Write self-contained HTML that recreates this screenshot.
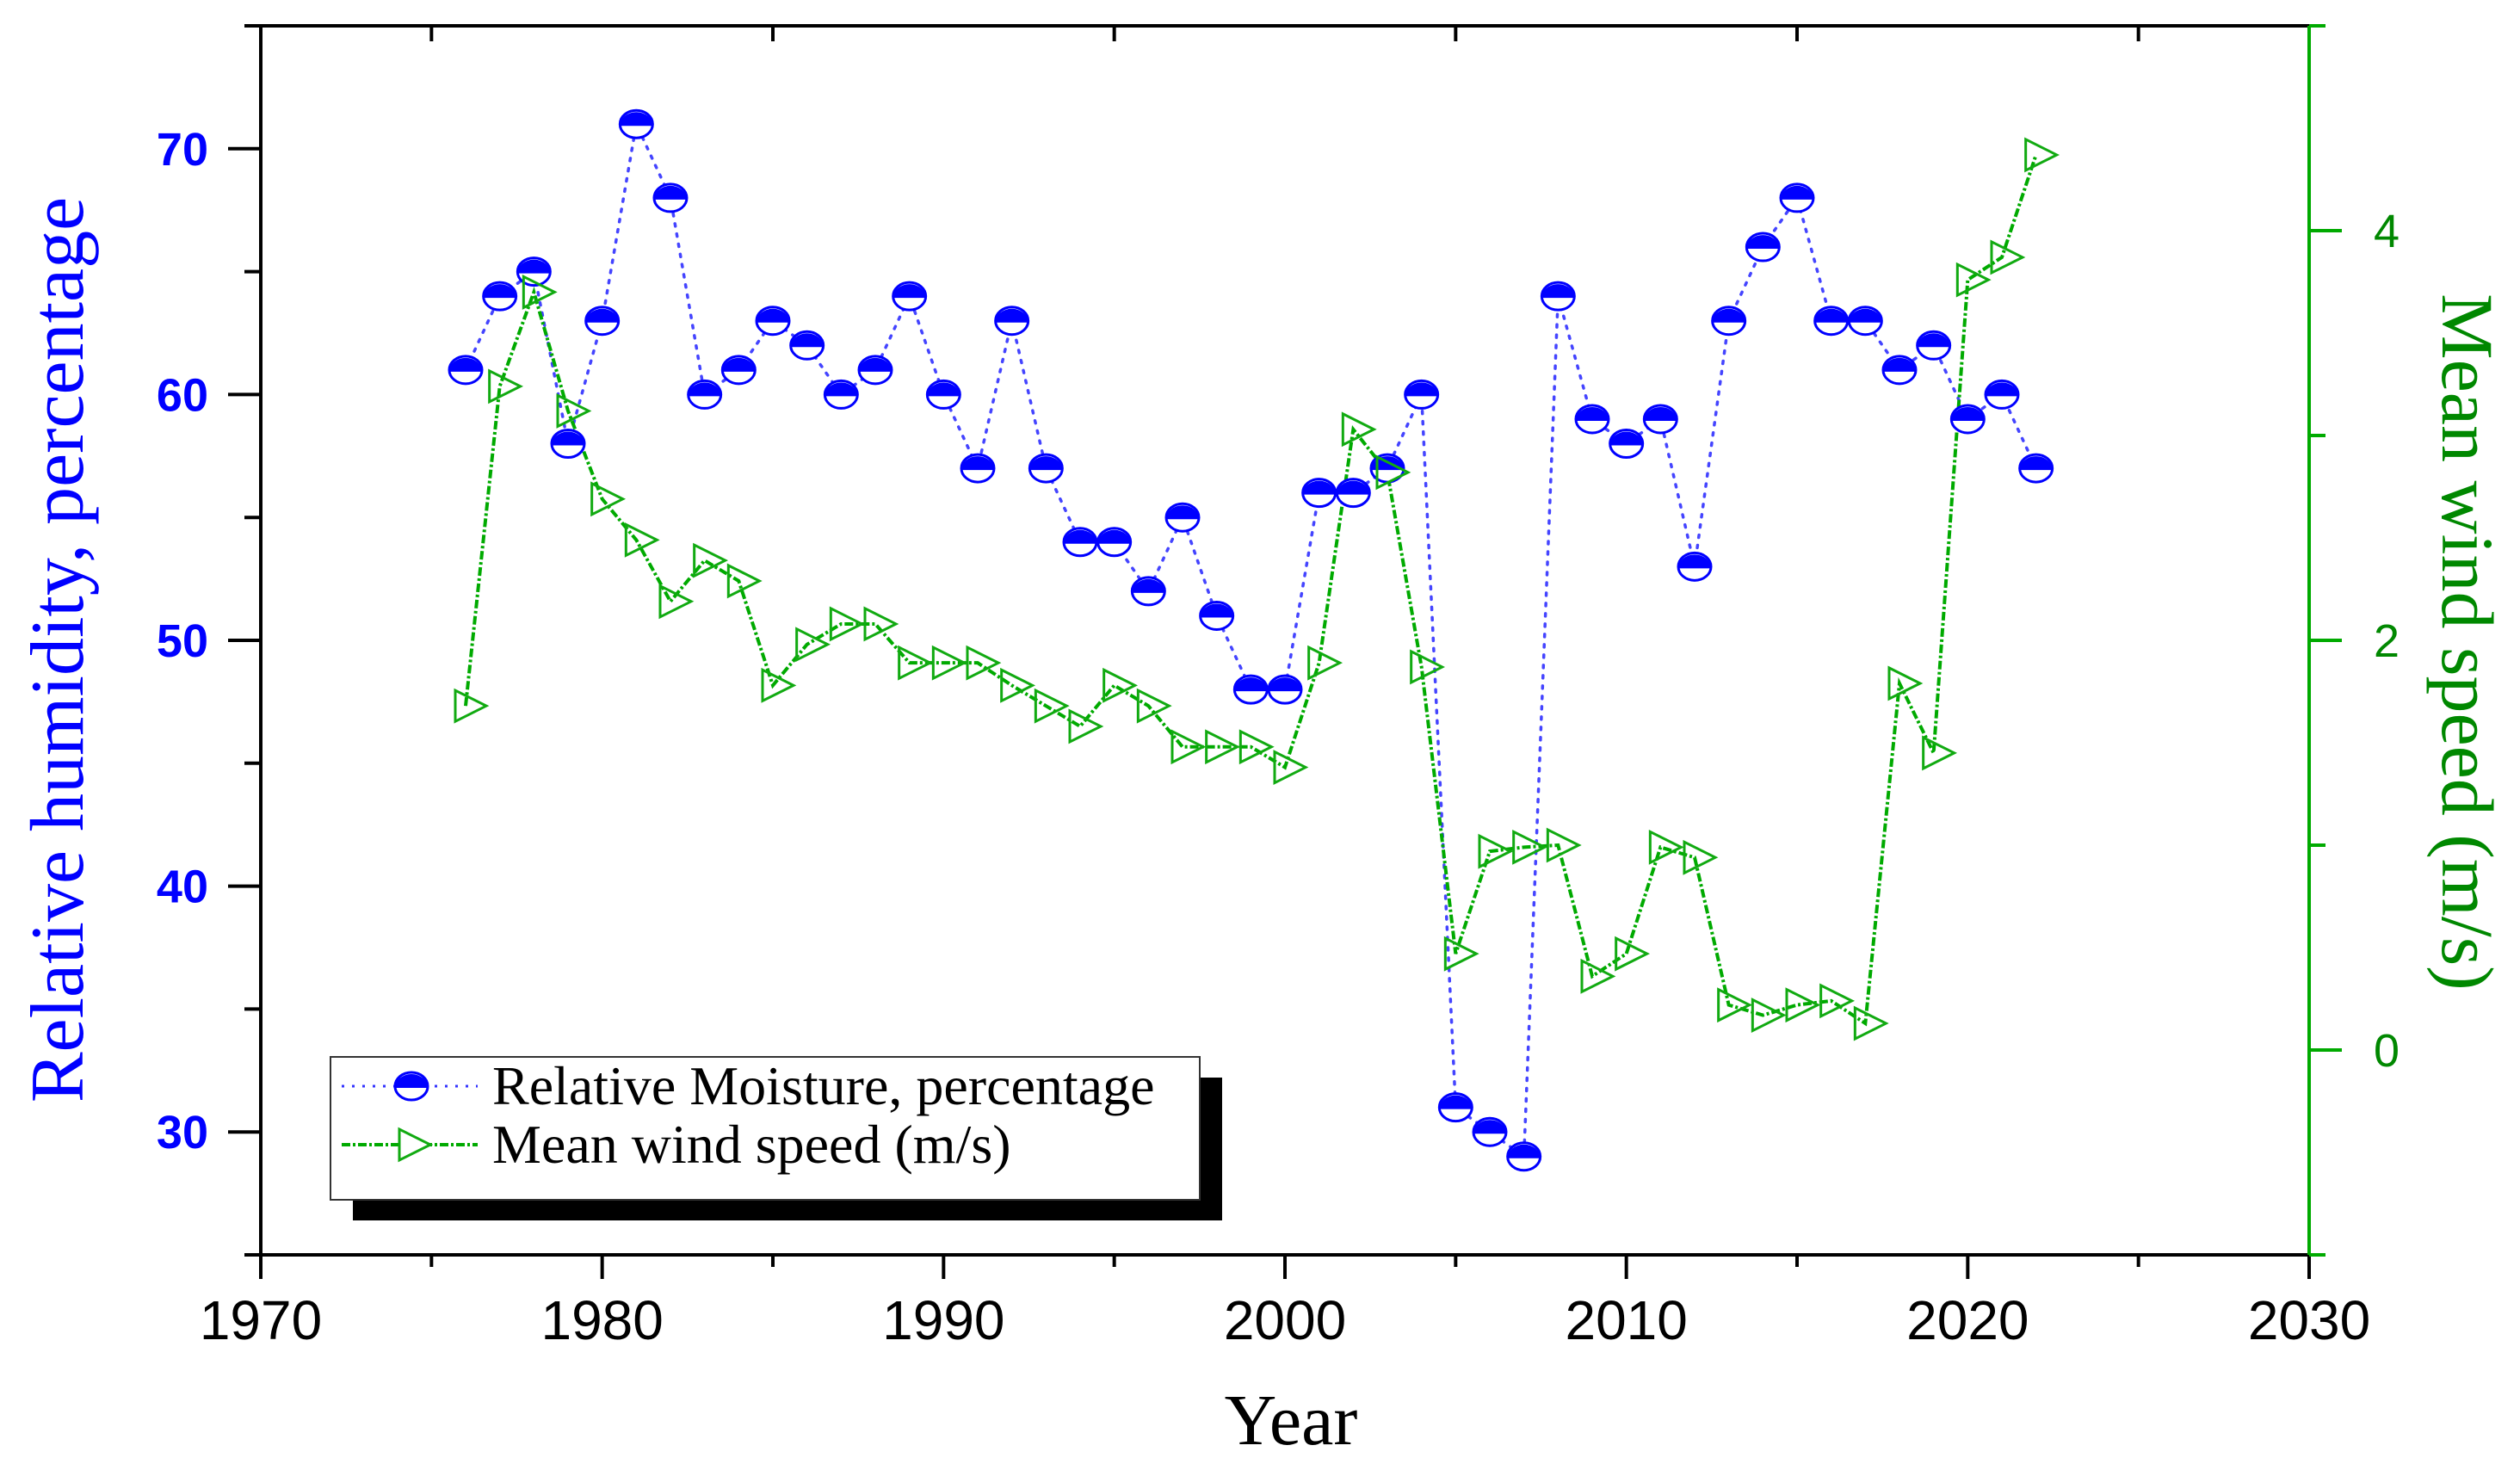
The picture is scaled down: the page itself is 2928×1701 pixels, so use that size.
<!DOCTYPE html>
<html><head><meta charset="utf-8"><style>
html,body{margin:0;padding:0;background:#fff;}
svg{display:block;}
</style></head><body>
<svg id="chart" width="2928" height="1701" viewBox="0 0 2928 1701" xmlns="http://www.w3.org/2000/svg">
<g id="axes"></g>
<g id="series"></g>
<g id="legend">
  <rect x="410" y="1252" width="1010" height="166" fill="#000"/>
  <rect x="384" y="1228" width="1010" height="166" fill="#fff" stroke="#333" stroke-width="2"/>
  <line x1="397" y1="1262" x2="555" y2="1262" stroke="#33f" stroke-width="3" stroke-dasharray="3,9"/>
  <g>
    <path d="M459,1264 A19,16 0 0 1 497,1264 Z" fill="#00f"/>
    <ellipse cx="478" cy="1262" rx="19" ry="16" fill="none" stroke="#00f" stroke-width="3"/>
  </g>
  <text x="572" y="1283" font-family="Liberation Serif, serif" font-size="64" fill="#000">Relative Moisture, percentage</text>
  <line x1="397" y1="1330" x2="555" y2="1330" stroke="#0a0" stroke-width="4" stroke-dasharray="10,3,3,3"/>
  <path d="M464,1312 L464,1348 L500,1330 Z" fill="#fff" stroke="#1a1" stroke-width="3"/>
  <text x="572" y="1351" font-family="Liberation Serif, serif" font-size="64" fill="#000">Mean wind speed (m/s)</text>
</g>
<text x="1500" y="1678" text-anchor="middle" font-family="Liberation Serif, serif" font-size="84" fill="#000">Year</text>
<text transform="translate(96,755) rotate(-90)" text-anchor="middle" font-family="Liberation Serif, serif" font-size="88" fill="#00f">Relative humidity, percentage</text>
<text transform="translate(2838,746) rotate(90)" text-anchor="middle" font-family="Liberation Serif, serif" font-size="86" fill="#080">Mean wind speed (m/s)</text>
</svg>
<script>
const years = [1976,1977,1978,1979,1980,1981,1982,1983,1984,1985,1986,1987,1988,1989,1990,1991,1992,1993,1994,1995,1996,1997,1998,1999,2000,2001,2002,2003,2004,2005,2006,2007,2008,2009,2010,2011,2012,2013,2014,2015,2016,2017,2018,2019,2020,2021,2022];
const humidity = [61,64,65,58,63,71,68,60,61,63,62,60,61,64,60,57,63,57,54,54,52,55,51,48,48,56,56,57,60,31,30,29,64,59,58,59,53,63,66,68,63,63,61,62,59,60,57];
const wind = [1.68,3.24,3.70,3.12,2.69,2.49,2.19,2.39,2.29,1.78,1.98,2.08,2.08,1.89,1.89,1.89,1.78,1.68,1.58,1.78,1.68,1.48,1.48,1.48,1.38,1.89,3.03,2.82,1.87,0.47,0.97,0.99,1.0,0.36,0.47,0.99,0.94,0.22,0.17,0.22,0.24,0.13,1.79,1.45,3.76,3.87,4.37];
const xTicks = [1970,1980,1990,2000,2010,2020,2030];
const leftTicks = [30,40,50,60,70];
const rightTicks = [0,2,4];

const NS='http://www.w3.org/2000/svg';
const X0=303,X1=2683,YT=30,YB=1458;
const xs=v=>X0+(v-1970)/60*(X1-X0);
const yl=v=>YB-(v-25)/50*(YB-YT);
const yr=v=>YB-(v+1)/6*(YB-YT);
function mk(tag,attrs,parent){const e=document.createElementNS(NS,tag);for(const k in attrs)e.setAttribute(k,attrs[k]);parent.appendChild(e);return e;}
const ax=document.getElementById('axes');
const se=document.getElementById('series');

let e;
e=mk('line',{x1:284,y1:YB,x2:X1,y2:YB,stroke:'#000','stroke-width':4},ax);


e=mk('line',{x1:284,y1:YT,x2:X1,y2:YT,stroke:'#000','stroke-width':4},ax);


e=mk('line',{x1:X0,y1:YT,x2:X0,y2:YB,stroke:'#000','stroke-width':4},ax);


e=mk('line',{x1:X1,y1:YT,x2:X1,y2:YB,stroke:'#0a0','stroke-width':4},ax);



for(let y=1970;y<=2030;y+=5){
  const major=(y%10===0);
  e=mk('line',{x1:xs(y),y1:YB,x2:xs(y),y2:YB+(major?28:14),stroke:'#000','stroke-width':4},ax);
  
  
  e=mk('line',{x1:xs(y),y1:YT,x2:xs(y),y2:YT+(major?0:18),stroke:'#000','stroke-width':4},ax);
  
  
}
xTicks.forEach(t=>{
  e=mk('text',{x:xs(t),y:1556,'text-anchor':'middle','font-family':'Liberation Sans, sans-serif','font-size':64,fill:'#000'},ax);
  e.textContent=t;
  
  
});
for(let v=25;v<=75;v+=5){
  const major=(v%10===0);
  e=mk('line',{x1:X0-(major?38:19),y1:yl(v),x2:X0,y2:yl(v),stroke:'#000','stroke-width':4},ax);
  
  
}
leftTicks.forEach(t=>{
  e=mk('text',{x:242,y:yl(t)+19,'text-anchor':'end','font-family':'Liberation Sans, sans-serif','font-weight':'bold','font-size':54,fill:'#00f'},ax);
  e.textContent=t;
  
  
});
for(let v=-1;v<=5;v+=1){
  const major=(v%2===0);
  e=mk('line',{x1:X1,y1:yr(v),x2:X1+(major?38:19),y2:yr(v),stroke:'#0a0','stroke-width':4},ax);
  
  
}
rightTicks.forEach(t=>{
  e=mk('text',{x:2758,y:yr(t)+19,'font-family':'Liberation Sans, sans-serif','font-size':54,fill:'#080'},ax);
  e.textContent=t;
  
  
});

e=mk('polyline',{points:years.map((y,i)=>xs(y)+','+yl(humidity[i])).join(' '),fill:'none',stroke:'#44f','stroke-width':3.5,'stroke-dasharray':'3,9','stroke-linecap':'round'},se);


e=mk('polyline',{points:years.map((y,i)=>xs(y)+','+yr(wind[i])).join(' '),fill:'none',stroke:'#0a0','stroke-width':4,'stroke-dasharray':'10,3,3,3'},se);



years.forEach((y,i)=>{
  const cx=xs(y),cy=yl(humidity[i]);
  const g=mk('g',{},se);
  
  
  mk('ellipse',{cx:cx,cy:cy,rx:19,ry:16,fill:'#fff',stroke:'#00f','stroke-width':3},g);
  mk('path',{d:`M${cx-19},${cy+2} A19,16 0 0 1 ${cx+19},${cy+2} Z`,fill:'#00f'},g);
});
years.forEach((y,i)=>{
  const cx=xs(y),cy=yr(wind[i]);
  e=mk('path',{d:`M${cx-12},${cy-18} L${cx-12},${cy+18} L${cx+24},${cy} Z`,fill:'none',stroke:'#1a1','stroke-width':3},se);
  
  
});
</script>
</body></html>
